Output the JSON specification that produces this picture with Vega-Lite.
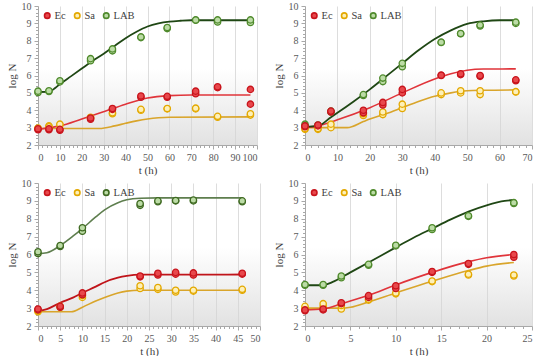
{
  "$schema": "https://vega.github.io/schema/vega-lite/v6.json",
  "padding": {"left": 6, "top": 1, "right": 4, "bottom": 0},
  "background": "white",
  "config": {
    "view": {"stroke": null},
    "axis": {
      "zindex": 1,
      "labelFont": "Liberation Serif", "labelFontSize": 10, "labelColor": "#595959",
      "titleFont": "Liberation Serif", "titleFontSize": 11, "titleColor": "#404040", "titleFontWeight": "normal",
      "grid": true, "gridColor": "#d4d4d4", "gridWidth": 0.8, "domainColor": "#a8a8a8", "tickColor": "#a8a8a8", "labelPadding": 3, "labelOverlap": false
    },
    "axisX": {"titlePadding": 2},
    "axisY": {
      "format": "d",
      "labelExpr": "abs(datum.value - round(datum.value)) < 0.01 ? datum.label : ''",
      "gridOpacity": {"condition": {"test": "abs(datum.value - round(datum.value)) < 0.01", "value": 1}, "value": 0},
      "tickSize": {"condition": {"test": "abs(datum.value - round(datum.value)) < 0.01", "value": 4}, "value": 2.5}
    }
  },
  "datasets": {
    "p1": [
      {"t":0,"y":5.02,"s":"LAB"},{"t":0,"y":5.1,"s":"LAB"},{"t":5,"y":5.08,"s":"LAB"},{"t":5,"y":5.12,"s":"LAB"},
      {"t":10,"y":5.63,"s":"LAB"},{"t":10,"y":5.7,"s":"LAB"},{"t":24,"y":6.85,"s":"LAB"},{"t":24,"y":6.97,"s":"LAB"},
      {"t":34,"y":7.42,"s":"LAB"},{"t":34,"y":7.53,"s":"LAB"},{"t":47,"y":8.18,"s":"LAB"},{"t":47,"y":8.22,"s":"LAB"},
      {"t":59,"y":8.7,"s":"LAB"},{"t":59,"y":8.76,"s":"LAB"},{"t":72,"y":9.18,"s":"LAB"},{"t":72,"y":9.2,"s":"LAB"},
      {"t":82,"y":9.08,"s":"LAB"},{"t":82,"y":9.2,"s":"LAB"},{"t":97,"y":9.05,"s":"LAB"},{"t":97,"y":9.2,"s":"LAB"},
      {"t":0,"y":2.98,"s":"Sa"},{"t":0,"y":2.95,"s":"Sa"},{"t":5,"y":3.1,"s":"Sa"},{"t":5,"y":3.05,"s":"Sa"},
      {"t":10,"y":3.15,"s":"Sa"},{"t":10,"y":3.2,"s":"Sa"},{"t":24,"y":3.55,"s":"Sa"},{"t":24,"y":3.6,"s":"Sa"},
      {"t":34,"y":3.8,"s":"Sa"},{"t":34,"y":3.85,"s":"Sa"},{"t":47,"y":4.0,"s":"Sa"},{"t":47,"y":4.05,"s":"Sa"},
      {"t":59,"y":4.08,"s":"Sa"},{"t":59,"y":4.1,"s":"Sa"},{"t":72,"y":4.08,"s":"Sa"},{"t":72,"y":4.12,"s":"Sa"},
      {"t":82,"y":3.6,"s":"Sa"},{"t":82,"y":3.65,"s":"Sa"},{"t":97,"y":3.72,"s":"Sa"},{"t":97,"y":3.8,"s":"Sa"},
      {"t":0,"y":2.88,"s":"Ec"},{"t":0,"y":2.93,"s":"Ec"},{"t":5,"y":2.88,"s":"Ec"},{"t":5,"y":2.93,"s":"Ec"},
      {"t":10,"y":2.85,"s":"Ec"},{"t":10,"y":2.9,"s":"Ec"},{"t":24,"y":3.48,"s":"Ec"},{"t":24,"y":3.55,"s":"Ec"},
      {"t":34,"y":4.05,"s":"Ec"},{"t":34,"y":4.1,"s":"Ec"},{"t":47,"y":4.75,"s":"Ec"},{"t":47,"y":4.82,"s":"Ec"},
      {"t":59,"y":4.75,"s":"Ec"},{"t":59,"y":4.8,"s":"Ec"},{"t":72,"y":4.95,"s":"Ec"},{"t":72,"y":5.1,"s":"Ec"},
      {"t":82,"y":5.3,"s":"Ec"},{"t":82,"y":5.35,"s":"Ec"},{"t":97,"y":5.2,"s":"Ec"},{"t":97,"y":4.35,"s":"Ec"}
    ],
    "p1f": [
      {"t":0,"y":5.05,"s":"LAB"},{"t":5,"y":5.06,"s":"LAB"},{"t":8,"y":5.3,"s":"LAB"},{"t":10,"y":5.5,"s":"LAB"},{"t":15,"y":5.95,"s":"LAB"},
      {"t":20,"y":6.4,"s":"LAB"},{"t":25,"y":6.85,"s":"LAB"},{"t":30,"y":7.25,"s":"LAB"},{"t":35,"y":7.7,"s":"LAB"},{"t":40,"y":8.15,"s":"LAB"},
      {"t":45,"y":8.52,"s":"LAB"},{"t":50,"y":8.82,"s":"LAB"},{"t":55,"y":9.0,"s":"LAB"},{"t":60,"y":9.1,"s":"LAB"},{"t":65,"y":9.15,"s":"LAB"},
      {"t":70,"y":9.18,"s":"LAB"},{"t":97,"y":9.18,"s":"LAB"},
      {"t":0,"y":2.9,"s":"Ec"},{"t":10,"y":3.1,"s":"Ec"},{"t":20,"y":3.5,"s":"Ec"},{"t":30,"y":3.92,"s":"Ec"},{"t":40,"y":4.35,"s":"Ec"},
      {"t":50,"y":4.7,"s":"Ec"},{"t":60,"y":4.84,"s":"Ec"},{"t":70,"y":4.88,"s":"Ec"},{"t":97,"y":4.88,"s":"Ec"},
      {"t":0,"y":2.95,"s":"Sa"},{"t":28,"y":2.95,"s":"Sa"},{"t":35,"y":3.1,"s":"Sa"},{"t":40,"y":3.25,"s":"Sa"},{"t":45,"y":3.39,"s":"Sa"},
      {"t":50,"y":3.5,"s":"Sa"},{"t":55,"y":3.57,"s":"Sa"},{"t":60,"y":3.6,"s":"Sa"},{"t":97,"y":3.62,"s":"Sa"}
    ],
    "p2": [
      {"t":0,"y":3.2,"s":"LAB"},{"t":0,"y":3.1,"s":"LAB"},{"t":4,"y":3.15,"s":"LAB"},{"t":4,"y":3.1,"s":"LAB"},
      {"t":8,"y":3.95,"s":"LAB"},{"t":8,"y":3.9,"s":"LAB"},{"t":18,"y":4.85,"s":"LAB"},{"t":18,"y":4.9,"s":"LAB"},
      {"t":24,"y":5.65,"s":"LAB"},{"t":24,"y":5.85,"s":"LAB"},{"t":30,"y":6.5,"s":"LAB"},{"t":30,"y":6.7,"s":"LAB"},
      {"t":42,"y":7.9,"s":"LAB"},{"t":42,"y":7.92,"s":"LAB"},{"t":48,"y":8.4,"s":"LAB"},{"t":48,"y":8.42,"s":"LAB"},
      {"t":54,"y":8.85,"s":"LAB"},{"t":54,"y":8.9,"s":"LAB"},{"t":65,"y":9.0,"s":"LAB"},{"t":65,"y":9.07,"s":"LAB"},
      {"t":0,"y":2.9,"s":"Sa"},{"t":0,"y":2.95,"s":"Sa"},{"t":4,"y":2.9,"s":"Sa"},{"t":4,"y":2.95,"s":"Sa"},
      {"t":8,"y":3.0,"s":"Sa"},{"t":8,"y":3.2,"s":"Sa"},{"t":18,"y":3.7,"s":"Sa"},{"t":18,"y":3.8,"s":"Sa"},
      {"t":24,"y":3.75,"s":"Sa"},{"t":24,"y":3.9,"s":"Sa"},{"t":30,"y":4.1,"s":"Sa"},{"t":30,"y":4.35,"s":"Sa"},
      {"t":42,"y":4.9,"s":"Sa"},{"t":42,"y":5.0,"s":"Sa"},{"t":48,"y":5.0,"s":"Sa"},{"t":48,"y":5.12,"s":"Sa"},
      {"t":54,"y":4.9,"s":"Sa"},{"t":54,"y":5.12,"s":"Sa"},{"t":65,"y":5.05,"s":"Sa"},{"t":65,"y":5.07,"s":"Sa"},
      {"t":0,"y":3.05,"s":"Ec"},{"t":0,"y":3.1,"s":"Ec"},{"t":4,"y":3.1,"s":"Ec"},{"t":4,"y":3.15,"s":"Ec"},
      {"t":8,"y":3.9,"s":"Ec"},{"t":8,"y":3.95,"s":"Ec"},{"t":18,"y":3.85,"s":"Ec"},{"t":18,"y":4.0,"s":"Ec"},
      {"t":24,"y":4.3,"s":"Ec"},{"t":24,"y":4.45,"s":"Ec"},{"t":30,"y":5.0,"s":"Ec"},{"t":30,"y":5.2,"s":"Ec"},
      {"t":42,"y":6.0,"s":"Ec"},{"t":42,"y":6.02,"s":"Ec"},{"t":48,"y":6.05,"s":"Ec"},{"t":48,"y":6.1,"s":"Ec"},
      {"t":54,"y":5.95,"s":"Ec"},{"t":54,"y":6.0,"s":"Ec"},{"t":65,"y":5.7,"s":"Ec"},{"t":65,"y":5.75,"s":"Ec"}
    ],
    "p2f": [
      {"t":0,"y":3.05,"s":"LAB"},{"t":4,"y":3.1,"s":"LAB"},{"t":8,"y":3.6,"s":"LAB"},{"t":10,"y":3.85,"s":"LAB"},{"t":15,"y":4.5,"s":"LAB"},
      {"t":20,"y":5.2,"s":"LAB"},{"t":25,"y":5.95,"s":"LAB"},{"t":30,"y":6.7,"s":"LAB"},{"t":35,"y":7.45,"s":"LAB"},{"t":40,"y":8.1,"s":"LAB"},
      {"t":45,"y":8.6,"s":"LAB"},{"t":50,"y":8.97,"s":"LAB"},{"t":55,"y":9.12,"s":"LAB"},{"t":60,"y":9.18,"s":"LAB"},{"t":65,"y":9.18,"s":"LAB"},
      {"t":0,"y":3.0,"s":"Ec"},{"t":4,"y":3.1,"s":"Ec"},{"t":10,"y":3.45,"s":"Ec"},{"t":20,"y":4.15,"s":"Ec"},{"t":30,"y":5.0,"s":"Ec"},
      {"t":40,"y":5.8,"s":"Ec"},{"t":45,"y":6.1,"s":"Ec"},{"t":50,"y":6.3,"s":"Ec"},{"t":55,"y":6.37,"s":"Ec"},{"t":65,"y":6.38,"s":"Ec"},
      {"t":0,"y":3.0,"s":"Sa"},{"t":13,"y":3.0,"s":"Sa"},{"t":18,"y":3.35,"s":"Sa"},{"t":20,"y":3.5,"s":"Sa"},{"t":25,"y":3.8,"s":"Sa"},
      {"t":30,"y":4.15,"s":"Sa"},{"t":35,"y":4.5,"s":"Sa"},{"t":40,"y":4.8,"s":"Sa"},{"t":45,"y":5.0,"s":"Sa"},{"t":50,"y":5.12,"s":"Sa"},
      {"t":55,"y":5.15,"s":"Sa"},{"t":65,"y":5.17,"s":"Sa"}
    ],
    "p3": [
      {"t":0,"y":6.05,"s":"LAB"},{"t":0,"y":6.15,"s":"LAB"},{"t":5,"y":6.45,"s":"LAB"},{"t":5,"y":6.5,"s":"LAB"},
      {"t":10,"y":7.3,"s":"LAB"},{"t":10,"y":7.5,"s":"LAB"},{"t":23,"y":8.75,"s":"LAB"},{"t":23,"y":8.85,"s":"LAB"},
      {"t":27,"y":8.95,"s":"LAB"},{"t":27,"y":9.0,"s":"LAB"},{"t":31,"y":9.0,"s":"LAB"},{"t":31,"y":9.02,"s":"LAB"},
      {"t":35,"y":9.0,"s":"LAB"},{"t":35,"y":9.05,"s":"LAB"},{"t":46,"y":8.95,"s":"LAB"},{"t":46,"y":9.0,"s":"LAB"},
      {"t":0,"y":2.8,"s":"Sa"},{"t":0,"y":2.85,"s":"Sa"},{"t":5,"y":3.05,"s":"Sa"},{"t":5,"y":3.1,"s":"Sa"},
      {"t":10,"y":3.6,"s":"Sa"},{"t":10,"y":3.7,"s":"Sa"},{"t":23,"y":4.1,"s":"Sa"},{"t":23,"y":4.25,"s":"Sa"},
      {"t":27,"y":4.05,"s":"Sa"},{"t":27,"y":4.15,"s":"Sa"},{"t":31,"y":3.9,"s":"Sa"},{"t":31,"y":4.0,"s":"Sa"},
      {"t":35,"y":3.95,"s":"Sa"},{"t":35,"y":4.0,"s":"Sa"},{"t":46,"y":4.0,"s":"Sa"},{"t":46,"y":4.05,"s":"Sa"},
      {"t":0,"y":2.9,"s":"Ec"},{"t":0,"y":2.95,"s":"Ec"},{"t":5,"y":3.05,"s":"Ec"},{"t":5,"y":3.1,"s":"Ec"},
      {"t":10,"y":3.75,"s":"Ec"},{"t":10,"y":3.85,"s":"Ec"},{"t":23,"y":4.75,"s":"Ec"},{"t":23,"y":4.8,"s":"Ec"},
      {"t":27,"y":4.85,"s":"Ec"},{"t":27,"y":4.95,"s":"Ec"},{"t":31,"y":4.9,"s":"Ec"},{"t":31,"y":5.0,"s":"Ec"},
      {"t":35,"y":4.85,"s":"Ec"},{"t":35,"y":4.97,"s":"Ec"},{"t":46,"y":4.9,"s":"Ec"},{"t":46,"y":4.95,"s":"Ec"}
    ],
    "p3f": [
      {"t":0,"y":6.05,"s":"LAB"},{"t":2,"y":6.1,"s":"LAB"},{"t":5,"y":6.5,"s":"LAB"},{"t":8,"y":7.05,"s":"LAB"},{"t":10,"y":7.45,"s":"LAB"},
      {"t":13,"y":8.1,"s":"LAB"},{"t":15,"y":8.5,"s":"LAB"},{"t":18,"y":8.9,"s":"LAB"},{"t":20,"y":9.06,"s":"LAB"},{"t":23,"y":9.15,"s":"LAB"},
      {"t":27,"y":9.17,"s":"LAB"},{"t":46,"y":9.17,"s":"LAB"},
      {"t":0,"y":2.85,"s":"Ec"},{"t":2,"y":2.95,"s":"Ec"},{"t":5,"y":3.3,"s":"Ec"},{"t":8,"y":3.6,"s":"Ec"},{"t":10,"y":3.85,"s":"Ec"},
      {"t":13,"y":4.2,"s":"Ec"},{"t":15,"y":4.45,"s":"Ec"},{"t":18,"y":4.7,"s":"Ec"},{"t":20,"y":4.8,"s":"Ec"},{"t":23,"y":4.87,"s":"Ec"},
      {"t":46,"y":4.88,"s":"Ec"},
      {"t":0,"y":2.8,"s":"Sa"},{"t":7.5,"y":2.8,"s":"Sa"},{"t":10,"y":3.05,"s":"Sa"},{"t":13,"y":3.4,"s":"Sa"},{"t":15,"y":3.6,"s":"Sa"},
      {"t":18,"y":3.85,"s":"Sa"},{"t":20,"y":3.95,"s":"Sa"},{"t":23,"y":4.0,"s":"Sa"},{"t":46,"y":4.0,"s":"Sa"}
    ],
    "p4": [
      {"t":0,"y":4.28,"s":"LAB"},{"t":0,"y":4.32,"s":"LAB"},{"t":2,"y":4.28,"s":"LAB"},{"t":2,"y":4.32,"s":"LAB"},
      {"t":4,"y":4.7,"s":"LAB"},{"t":4,"y":4.8,"s":"LAB"},{"t":7,"y":5.4,"s":"LAB"},{"t":7,"y":5.45,"s":"LAB"},
      {"t":10,"y":6.48,"s":"LAB"},{"t":10,"y":6.52,"s":"LAB"},{"t":14,"y":7.4,"s":"LAB"},{"t":14,"y":7.5,"s":"LAB"},
      {"t":18,"y":8.13,"s":"LAB"},{"t":18,"y":8.17,"s":"LAB"},{"t":23,"y":8.85,"s":"LAB"},{"t":23,"y":8.9,"s":"LAB"},
      {"t":0,"y":3.0,"s":"Sa"},{"t":0,"y":3.1,"s":"Sa"},{"t":2,"y":3.1,"s":"Sa"},{"t":2,"y":3.25,"s":"Sa"},
      {"t":4,"y":2.95,"s":"Sa"},{"t":4,"y":3.15,"s":"Sa"},{"t":7,"y":3.45,"s":"Sa"},{"t":7,"y":3.5,"s":"Sa"},
      {"t":10,"y":3.8,"s":"Sa"},{"t":10,"y":3.85,"s":"Sa"},{"t":14,"y":4.48,"s":"Sa"},{"t":14,"y":4.52,"s":"Sa"},
      {"t":18,"y":4.85,"s":"Sa"},{"t":18,"y":4.9,"s":"Sa"},{"t":23,"y":4.8,"s":"Sa"},{"t":23,"y":4.85,"s":"Sa"},
      {"t":0,"y":2.85,"s":"Ec"},{"t":0,"y":2.9,"s":"Ec"},{"t":2,"y":2.9,"s":"Ec"},{"t":2,"y":2.95,"s":"Ec"},
      {"t":4,"y":3.25,"s":"Ec"},{"t":4,"y":3.3,"s":"Ec"},{"t":7,"y":3.6,"s":"Ec"},{"t":7,"y":3.7,"s":"Ec"},
      {"t":10,"y":4.1,"s":"Ec"},{"t":10,"y":4.25,"s":"Ec"},{"t":14,"y":5.0,"s":"Ec"},{"t":14,"y":5.05,"s":"Ec"},
      {"t":18,"y":5.45,"s":"Ec"},{"t":18,"y":5.5,"s":"Ec"},{"t":23,"y":5.85,"s":"Ec"},{"t":23,"y":6.0,"s":"Ec"}
    ],
    "p4f": [
      {"t":0,"y":4.28,"s":"LAB"},{"t":2,"y":4.28,"s":"LAB"},{"t":3,"y":4.45,"s":"LAB"},{"t":5,"y":5.0,"s":"LAB"},{"t":7,"y":5.55,"s":"LAB"},
      {"t":10,"y":6.4,"s":"LAB"},{"t":12,"y":6.95,"s":"LAB"},{"t":14,"y":7.45,"s":"LAB"},{"t":16,"y":7.95,"s":"LAB"},{"t":18,"y":8.4,"s":"LAB"},
      {"t":20,"y":8.75,"s":"LAB"},{"t":22,"y":9.0,"s":"LAB"},{"t":23,"y":9.05,"s":"LAB"},
      {"t":0,"y":2.9,"s":"Ec"},{"t":2,"y":2.95,"s":"Ec"},{"t":4,"y":3.25,"s":"Ec"},{"t":7,"y":3.72,"s":"Ec"},{"t":10,"y":4.3,"s":"Ec"},
      {"t":14,"y":5.0,"s":"Ec"},{"t":18,"y":5.6,"s":"Ec"},{"t":20,"y":5.82,"s":"Ec"},{"t":23,"y":6.0,"s":"Ec"},
      {"t":0,"y":3.0,"s":"Sa"},{"t":4,"y":3.0,"s":"Sa"},{"t":5,"y":3.05,"s":"Sa"},{"t":7,"y":3.35,"s":"Sa"},{"t":10,"y":3.85,"s":"Sa"},
      {"t":14,"y":4.5,"s":"Sa"},{"t":18,"y":5.1,"s":"Sa"},{"t":20,"y":5.35,"s":"Sa"},{"t":23,"y":5.55,"s":"Sa"}
    ]
  },
  "columns": 2,
  "spacing": {"row": 3, "column": 12},
  "resolve": {"scale": {"fill": "independent", "stroke": "independent"}, "legend": {"fill": "independent", "stroke": "independent"}},
  "concat": [
    {
      "width": 219, "height": 139,
      "view": {"fill": {"gradient": "linear", "x1": 0, "y1": 0, "x2": 0, "y2": 1, "stops": [{"offset": 0, "color": "#ffffff"}, {"offset": 0.45, "color": "#ffffff"}, {"offset": 1, "color": "#e2e2e2"}]}},
      "encoding": {
        "x": {"field": "t", "type": "quantitative", "scale": {"domain": [0, 100], "nice": false}, "axis": {"title": "t (h)", "values": [0,2,4,6,8,10,12,14,16,18,20,22,24,26,28,30,32,34,36,38,40,42,44,46,48,50,52,54,56,58,60,62,64,66,68,70,72,74,76,78,80,82,84,86,88,90,92,94,96,98,100],
          "labelExpr": "datum.value % 10 === 0 ? datum.label : ''",
          "gridOpacity": {"condition": {"test": "datum.value % 10 === 0", "value": 1}, "value": 0},
          "tickSize": {"condition": {"test": "datum.value % 10 === 0", "value": 4}, "value": 2.5}}},
        "y": {"field": "y", "type": "quantitative", "scale": {"domain": [2, 10], "nice": false}, "axis": {"title": "log N", "values": [2,2.2,2.4,2.6,2.8,3,3.2,3.4,3.6,3.8,4,4.2,4.4,4.6,4.8,5,5.2,5.4,5.6,5.8,6,6.2,6.4,6.6,6.8,7,7.2,7.4,7.6,7.8,8,8.2,8.4,8.6,8.8,9,9.2,9.4,9.6,9.8,10]}}
      },
      "layer": [
        {"data": {"name": "p1f"}, "transform": [{"filter": "datum.s === 'Sa'"}], "mark": {"type": "line", "interpolate": "monotone", "strokeWidth": 1.6, "color": "#d9a52b"}, "encoding": {}},
        {"data": {"name": "p1f"}, "transform": [{"filter": "datum.s === 'Ec'"}], "mark": {"type": "line", "interpolate": "monotone", "strokeWidth": 1.6, "color": "#e0343a"}, "encoding": {}},
        {"data": {"name": "p1f"}, "transform": [{"filter": "datum.s === 'LAB'"}], "mark": {"type": "line", "interpolate": "monotone", "strokeWidth": 1.8, "color": "#1f4714"}, "encoding": {}},
        {"data": {"name": "p1"}, "mark": {"type": "point", "shape": "circle", "size": 40, "strokeWidth": 1.3, "opacity": 1},
         "encoding": {
           "fill": {"field": "s", "type": "nominal", "scale": {"domain": ["Ec", "Sa", "LAB"], "range": ["#e8484c", "#fdf0b8", "#bcdca6"]}, "legend": {"zindex": 2, "orient": "top-left", "direction": "horizontal", "title": null, "offset": 4, "padding": 0, "symbolSize": 30, "symbolStrokeWidth": 1.6, "labelFont": "Liberation Serif", "labelFontSize": 10.5, "labelColor": "#404040", "columnPadding": 5, "labelOffset": 2}},
           "stroke": {"field": "s", "type": "nominal", "scale": {"domain": ["Ec", "Sa", "LAB"], "range": ["#c8141c", "#e3a800", "#4f8a2c"]}, "legend": {"zindex": 2, "orient": "top-left", "direction": "horizontal", "title": null, "offset": 4, "padding": 0, "symbolSize": 30, "symbolStrokeWidth": 1.6, "labelFont": "Liberation Serif", "labelFontSize": 10.5, "labelColor": "#404040", "columnPadding": 5, "labelOffset": 2}}}}
      ]
    },
    {
      "width": 227, "height": 139,
      "view": {"fill": {"gradient": "linear", "x1": 0, "y1": 0, "x2": 0, "y2": 1, "stops": [{"offset": 0, "color": "#ffffff"}, {"offset": 0.45, "color": "#ffffff"}, {"offset": 1, "color": "#e2e2e2"}]}},
      "encoding": {
        "x": {"field": "t", "type": "quantitative", "scale": {"domain": [0, 70], "nice": false}, "axis": {"title": "t (h)", "values": [0,2,4,6,8,10,12,14,16,18,20,22,24,26,28,30,32,34,36,38,40,42,44,46,48,50,52,54,56,58,60,62,64,66,68,70],
          "labelExpr": "datum.value % 10 === 0 ? datum.label : ''",
          "gridOpacity": {"condition": {"test": "datum.value % 10 === 0", "value": 1}, "value": 0},
          "tickSize": {"condition": {"test": "datum.value % 10 === 0", "value": 4}, "value": 2.5}}},
        "y": {"field": "y", "type": "quantitative", "scale": {"domain": [2, 10], "nice": false}, "axis": {"title": "log N", "values": [2,2.2,2.4,2.6,2.8,3,3.2,3.4,3.6,3.8,4,4.2,4.4,4.6,4.8,5,5.2,5.4,5.6,5.8,6,6.2,6.4,6.6,6.8,7,7.2,7.4,7.6,7.8,8,8.2,8.4,8.6,8.8,9,9.2,9.4,9.6,9.8,10]}}
      },
      "layer": [
        {"data": {"name": "p2f"}, "transform": [{"filter": "datum.s === 'Sa'"}], "mark": {"type": "line", "interpolate": "monotone", "strokeWidth": 1.6, "color": "#d9a52b"}, "encoding": {}},
        {"data": {"name": "p2f"}, "transform": [{"filter": "datum.s === 'Ec'"}], "mark": {"type": "line", "interpolate": "monotone", "strokeWidth": 1.6, "color": "#e0343a"}, "encoding": {}},
        {"data": {"name": "p2f"}, "transform": [{"filter": "datum.s === 'LAB'"}], "mark": {"type": "line", "interpolate": "monotone", "strokeWidth": 1.8, "color": "#1f4714"}, "encoding": {}},
        {"data": {"name": "p2"}, "mark": {"type": "point", "shape": "circle", "size": 40, "strokeWidth": 1.3, "opacity": 1},
         "encoding": {
           "fill": {"field": "s", "type": "nominal", "scale": {"domain": ["Ec", "Sa", "LAB"], "range": ["#e8484c", "#fdf0b8", "#bcdca6"]}, "legend": {"zindex": 2, "orient": "top-left", "direction": "horizontal", "title": null, "offset": 4, "padding": 0, "symbolSize": 30, "symbolStrokeWidth": 1.6, "labelFont": "Liberation Serif", "labelFontSize": 10.5, "labelColor": "#404040", "columnPadding": 5, "labelOffset": 2}},
           "stroke": {"field": "s", "type": "nominal", "scale": {"domain": ["Ec", "Sa", "LAB"], "range": ["#c8141c", "#e3a800", "#4f8a2c"]}, "legend": {"zindex": 2, "orient": "top-left", "direction": "horizontal", "title": null, "offset": 4, "padding": 0, "symbolSize": 30, "symbolStrokeWidth": 1.6, "labelFont": "Liberation Serif", "labelFontSize": 10.5, "labelColor": "#404040", "columnPadding": 5, "labelOffset": 2}}}}
      ]
    },
    {
      "width": 222, "height": 143,
      "view": {"fill": {"gradient": "linear", "x1": 0, "y1": 0, "x2": 0, "y2": 1, "stops": [{"offset": 0, "color": "#ffffff"}, {"offset": 0.45, "color": "#ffffff"}, {"offset": 1, "color": "#e2e2e2"}]}},
      "encoding": {
        "x": {"field": "t", "type": "quantitative", "scale": {"domain": [0, 50], "nice": false}, "axis": {"title": "t (h)", "values": [0,1,2,3,4,5,6,7,8,9,10,11,12,13,14,15,16,17,18,19,20,21,22,23,24,25,26,27,28,29,30,31,32,33,34,35,36,37,38,39,40,41,42,43,44,45,46,47,48,49,50],
          "labelExpr": "datum.value % 5 === 0 ? datum.label : ''",
          "gridOpacity": {"condition": {"test": "datum.value % 5 === 0", "value": 1}, "value": 0},
          "tickSize": {"condition": {"test": "datum.value % 5 === 0", "value": 4}, "value": 2.5}}},
        "y": {"field": "y", "type": "quantitative", "scale": {"domain": [2, 10], "nice": false}, "axis": {"title": "log N", "values": [2,2.2,2.4,2.6,2.8,3,3.2,3.4,3.6,3.8,4,4.2,4.4,4.6,4.8,5,5.2,5.4,5.6,5.8,6,6.2,6.4,6.6,6.8,7,7.2,7.4,7.6,7.8,8,8.2,8.4,8.6,8.8,9,9.2,9.4,9.6,9.8,10]}}
      },
      "layer": [
        {"data": {"name": "p3f"}, "transform": [{"filter": "datum.s === 'Sa'"}], "mark": {"type": "line", "interpolate": "monotone", "strokeWidth": 1.6, "color": "#d9a52b"}, "encoding": {}},
        {"data": {"name": "p3f"}, "transform": [{"filter": "datum.s === 'Ec'"}], "mark": {"type": "line", "interpolate": "monotone", "strokeWidth": 1.8, "color": "#c0141a"}, "encoding": {}},
        {"data": {"name": "p3f"}, "transform": [{"filter": "datum.s === 'LAB'"}], "mark": {"type": "line", "interpolate": "monotone", "strokeWidth": 1.6, "color": "#5e7e4e"}, "encoding": {}},
        {"data": {"name": "p3"}, "mark": {"type": "point", "shape": "circle", "size": 40, "strokeWidth": 1.3, "opacity": 1},
         "encoding": {
           "fill": {"field": "s", "type": "nominal", "scale": {"domain": ["Ec", "Sa", "LAB"], "range": ["#e8484c", "#fdf0b8", "#bcdca6"]}, "legend": {"zindex": 2, "orient": "top-left", "direction": "horizontal", "title": null, "offset": 4, "padding": 0, "symbolSize": 30, "symbolStrokeWidth": 1.6, "labelFont": "Liberation Serif", "labelFontSize": 10.5, "labelColor": "#404040", "columnPadding": 5, "labelOffset": 2}},
           "stroke": {"field": "s", "type": "nominal", "scale": {"domain": ["Ec", "Sa", "LAB"], "range": ["#c8141c", "#e3a800", "#3f6a22"]}, "legend": {"zindex": 2, "orient": "top-left", "direction": "horizontal", "title": null, "offset": 4, "padding": 0, "symbolSize": 30, "symbolStrokeWidth": 1.6, "labelFont": "Liberation Serif", "labelFontSize": 10.5, "labelColor": "#404040", "columnPadding": 5, "labelOffset": 2}}}}
      ]
    },
    {
      "width": 227, "height": 143,
      "view": {"fill": {"gradient": "linear", "x1": 0, "y1": 0, "x2": 0, "y2": 1, "stops": [{"offset": 0, "color": "#ffffff"}, {"offset": 0.45, "color": "#ffffff"}, {"offset": 1, "color": "#e2e2e2"}]}},
      "encoding": {
        "x": {"field": "t", "type": "quantitative", "scale": {"domain": [0, 25], "nice": false}, "axis": {"title": "t (h)", "values": [0,1,2,3,4,5,6,7,8,9,10,11,12,13,14,15,16,17,18,19,20,21,22,23,24,25],
          "labelExpr": "datum.value % 5 === 0 ? datum.label : ''",
          "gridOpacity": {"condition": {"test": "datum.value % 5 === 0", "value": 1}, "value": 0},
          "tickSize": {"condition": {"test": "datum.value % 5 === 0", "value": 4}, "value": 2.5}}},
        "y": {"field": "y", "type": "quantitative", "scale": {"domain": [2, 10], "nice": false}, "axis": {"title": "log N", "values": [2,2.2,2.4,2.6,2.8,3,3.2,3.4,3.6,3.8,4,4.2,4.4,4.6,4.8,5,5.2,5.4,5.6,5.8,6,6.2,6.4,6.6,6.8,7,7.2,7.4,7.6,7.8,8,8.2,8.4,8.6,8.8,9,9.2,9.4,9.6,9.8,10]}}
      },
      "layer": [
        {"data": {"name": "p4f"}, "transform": [{"filter": "datum.s === 'Sa'"}], "mark": {"type": "line", "interpolate": "monotone", "strokeWidth": 1.6, "color": "#d9a52b"}, "encoding": {}},
        {"data": {"name": "p4f"}, "transform": [{"filter": "datum.s === 'Ec'"}], "mark": {"type": "line", "interpolate": "monotone", "strokeWidth": 1.6, "color": "#e0343a"}, "encoding": {}},
        {"data": {"name": "p4f"}, "transform": [{"filter": "datum.s === 'LAB'"}], "mark": {"type": "line", "interpolate": "monotone", "strokeWidth": 1.8, "color": "#1f4714"}, "encoding": {}},
        {"data": {"name": "p4"}, "mark": {"type": "point", "shape": "circle", "size": 40, "strokeWidth": 1.3, "opacity": 1},
         "encoding": {
           "fill": {"field": "s", "type": "nominal", "scale": {"domain": ["Ec", "Sa", "LAB"], "range": ["#e8484c", "#fdf0b8", "#bcdca6"]}, "legend": {"zindex": 2, "orient": "top-left", "direction": "horizontal", "title": null, "offset": 4, "padding": 0, "symbolSize": 30, "symbolStrokeWidth": 1.6, "labelFont": "Liberation Serif", "labelFontSize": 10.5, "labelColor": "#404040", "columnPadding": 5, "labelOffset": 2}},
           "stroke": {"field": "s", "type": "nominal", "scale": {"domain": ["Ec", "Sa", "LAB"], "range": ["#c8141c", "#e3a800", "#4f8a2c"]}, "legend": {"zindex": 2, "orient": "top-left", "direction": "horizontal", "title": null, "offset": 4, "padding": 0, "symbolSize": 30, "symbolStrokeWidth": 1.6, "labelFont": "Liberation Serif", "labelFontSize": 10.5, "labelColor": "#404040", "columnPadding": 5, "labelOffset": 2}}}}
      ]
    }
  ]
}
